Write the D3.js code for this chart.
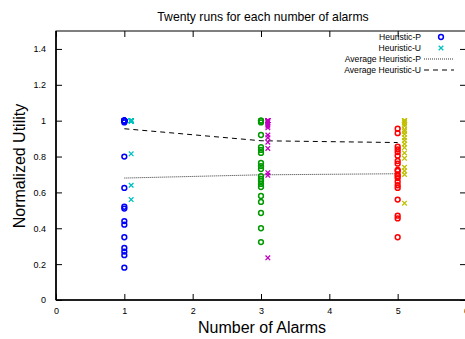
<!DOCTYPE html>
<html>
<head>
<meta charset="utf-8">
<script src="https://cdn.jsdelivr.net/npm/d3@7"></script>
<style>
  body { margin: 0; background: #fff; }
  svg { font-family: "Liberation Sans", Arial, sans-serif; }
</style>
</head>
<body>
<div id="chart"></div>
<script>
// alarm counts and the offset used for the U series
const alarms = [1, 3, 5];
const uOffset = 0.1;

// twenty runs per alarm count
const heuristicP1 = [1, 1, 1, 1, 1, 1, 1, 1, 0.99, 0.80, 0.625, 0.52, 0.51, 0.44, 0.42, 0.35, 0.29, 0.27, 0.25, 0.18];
const heuristicU1 = [1, 1, 1, 1, 1, 1, 1, 1, 1, 1, 1, 1, 1, 1, 1, 1, 0.995, 0.815, 0.64, 0.56];
const heuristicP3 = [1, 1, 0.99, 0.92, 0.853, 0.837, 0.82, 0.764, 0.747, 0.73, 0.69, 0.675, 0.664, 0.647, 0.63, 0.58, 0.547, 0.485, 0.40, 0.323];
const heuristicU3 = [1, 1, 1, 1, 1, 1, 1, 1, 1, 0.99, 0.98, 0.97, 0.96, 0.92, 0.905, 0.88, 0.845, 0.71, 0.695, 0.235];
const heuristicP5 = [0.955, 0.93, 0.855, 0.84, 0.825, 0.805, 0.775, 0.76, 0.725, 0.72, 0.70, 0.69, 0.68, 0.66, 0.64, 0.625, 0.56, 0.47, 0.455, 0.35];
const heuristicU5 = [1, 1, 1, 1, 0.99, 0.98, 0.97, 0.95, 0.94, 0.925, 0.905, 0.89, 0.87, 0.85, 0.82, 0.79, 0.74, 0.72, 0.70, 0.54];

// averages drawn as lines
const avgP = [0.68, 0.698, 0.704];
const avgU = [0.955, 0.888, 0.878];

const xTicks = [0, 1, 2, 3, 4, 5, 6];
const yTicks = [0, 0.2, 0.4, 0.6, 0.8, 1, 1.2, 1.4];

const pColors = ["#0000ff", "#009a00", "#ff0000"];
const uColors = ["#00c0c0", "#c000c0", "#c0c000"];

let svg = d3.select("#chart").append("svg")
    .attr("width", 465)
    .attr("height", 339);

let margin = { top: 31, right: -1, bottom: 39, left: 56 };
let width = 466, height = 339;

let x = d3.scaleLinear().domain([0, 6]).range([margin.left, width - margin.right - 1]);
let y = d3.scaleLinear().domain([0, 1.5]).range([height - margin.bottom, margin.top]);

// frame
svg.append("rect")
    .attr("x", x(0)).attr("y", y(1.5))
    .attr("width", x(6) - x(0)).attr("height", y(0) - y(1.5))
    .attr("fill", "none").attr("stroke", "#000").attr("stroke-width", 1);

svg.append("line")
    .attr("x1", x(0)).attr("x2", x(6)).attr("y1", y(0)).attr("y2", y(0))
    .attr("stroke", "#000").attr("stroke-width", 1.6);
svg.append("line")
    .attr("x1", x(0)).attr("x2", x(0)).attr("y1", y(0)).attr("y2", y(1.5))
    .attr("stroke", "#000").attr("stroke-width", 1.6);

// axes, ticks pointing inward
let xAxis = d3.axisBottom(x).tickValues(xTicks).tickSize(-6).tickPadding(10).tickFormat(d3.format("d"));
let yAxis = d3.axisLeft(y).tickValues(yTicks).tickSize(-6).tickPadding(10).tickFormat(d => d);

let gX = svg.append("g").attr("transform", `translate(0,${y(0)})`).call(xAxis);
let gY = svg.append("g").attr("transform", `translate(${x(0)},0)`).call(yAxis);

// mirrored ticks
svg.append("g").attr("transform", `translate(0,${y(1.5)})`)
    .call(d3.axisTop(x).tickValues(xTicks).tickSize(-6).tickFormat(""));
svg.append("g").attr("transform", `translate(${x(6)},0)`)
    .call(d3.axisRight(y).tickValues(yTicks).tickSize(-6).tickFormat(""));

svg.selectAll(".domain").remove();
svg.selectAll(".tick line").attr("stroke", "#000");
svg.selectAll(".tick text").attr("font-size", 9).attr("fill", "#000")
    .attr("font-family", "Liberation Sans, Arial, sans-serif");
gX.selectAll(".tick text").attr("dy", "0.4em");

// titles
svg.append("text")
    .attr("x", 263).attr("y", 21)
    .attr("text-anchor", "middle").attr("font-size", 12.2)
    .text("Twenty runs for each number of alarms");

svg.append("text")
    .attr("x", 262).attr("y", 333)
    .attr("text-anchor", "middle").attr("font-size", 16)
    .text("Number of Alarms");

svg.append("text")
    .attr("transform", "translate(25,166) rotate(-90)")
    .attr("text-anchor", "middle").attr("font-size", 16)
    .text("Normalized Utility");

// average lines
let line = d3.line().x((d, i) => x(alarms[i])).y(d => y(d));

svg.append("path").datum(avgP)
    .attr("d", line).attr("fill", "none")
    .attr("stroke", "#000").attr("stroke-width", 0.8)
    .attr("stroke-dasharray", "1,1");

svg.append("path").datum(avgU)
    .attr("d", line).attr("fill", "none")
    .attr("stroke", "#000").attr("stroke-width", 1)
    .attr("stroke-dasharray", "5,4");

// points
const pRuns = [heuristicP1, heuristicP3, heuristicP5];
const uRuns = [heuristicU1, heuristicU3, heuristicU5];

function crossPath(cx, cy, s) {
    return `M${cx - s},${cy - s}L${cx + s},${cy + s}M${cx - s},${cy + s}L${cx + s},${cy - s}`;
}

pRuns.forEach((runs, i) => {
    svg.append("g").selectAll("circle")
        .data(runs)
        .enter().append("circle")
        .attr("cx", x(alarms[i]))
        .attr("cy", d => y(d))
        .attr("r", 2.4)
        .attr("fill", "none")
        .attr("stroke", pColors[i])
        .attr("stroke-width", 1.5);
});

uRuns.forEach((runs, i) => {
    svg.append("g").selectAll("path")
        .data(runs)
        .enter().append("path")
        .attr("d", d => crossPath(x(alarms[i] + uOffset), y(d), 2.3))
        .attr("fill", "none")
        .attr("stroke", uColors[i])
        .attr("stroke-width", 1.3);
});

// legend
let legend = svg.append("g").attr("font-size", 8.6);
const legendItems = ["Heuristic-P", "Heuristic-U", "Average Heuristic-P", "Average Heuristic-U"];
legendItems.forEach((t, i) => {
    legend.append("text")
        .attr("x", 421).attr("y", 40 + i * 11)
        .attr("text-anchor", "end")
        .text(t);
});
legend.append("circle")
    .attr("cx", 441).attr("cy", 37).attr("r", 2.4)
    .attr("fill", "none").attr("stroke", pColors[0]).attr("stroke-width", 1.5);
legend.append("path")
    .attr("d", crossPath(441, 48, 2.3))
    .attr("fill", "none").attr("stroke", uColors[0]).attr("stroke-width", 1.3);
legend.append("line")
    .attr("x1", 424).attr("x2", 454).attr("y1", 59).attr("y2", 59)
    .attr("stroke", "#000").attr("stroke-width", 0.8).attr("stroke-dasharray", "1,1");
legend.append("line")
    .attr("x1", 424).attr("x2", 454).attr("y1", 70).attr("y2", 70)
    .attr("stroke", "#000").attr("stroke-width", 1).attr("stroke-dasharray", "5,4");
</script>
</body>
</html>
